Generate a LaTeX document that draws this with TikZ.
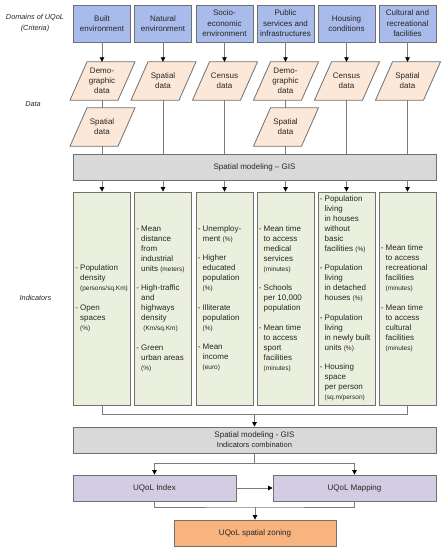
\documentclass[tikz,border=0pt]{standalone}
\usepackage{fontspec}
\setmainfont{Liberation Sans}
\usetikzlibrary{arrows.meta,calc}
\pgfdeclarelayer{bg}
\pgfsetlayers{bg,main}
\definecolor{cblue}{HTML}{A8BBEA}
\definecolor{cpeach}{HTML}{FCE8D8}
\definecolor{cgreen}{HTML}{EBF0DE}
\definecolor{cgray}{HTML}{D9D9D9}
\definecolor{clav}{HTML}{D4CCE3}
\definecolor{corange}{HTML}{F8B47E}
\definecolor{cborder}{HTML}{707070}
\definecolor{cline}{HTML}{7C7C7C}
\definecolor{ctext}{HTML}{262626}
\newcommand{\un}[1]{{\fontsize{6.5}{10}\selectfont #1}}
\newcommand{\ct}{\hphantom{- }}
\begin{document}
\begin{tikzpicture}[x=1pt,y=-1pt,
  every node/.style={text=ctext},
  box/.style={draw=cborder, line width=0.8pt, inner sep=0pt, align=center,
    font=\fontsize{8}{10.5}\selectfont},
  crit/.style={box, fill=cblue, minimum width=57pt, minimum height=37pt},
  para/.style={inner sep=0pt, minimum width=44pt, minimum height=38pt, align=center,
    font=\fontsize{8}{10}\selectfont},
  parashape/.style={draw=cborder, line width=0.8pt, fill=cpeach},
  ind/.style={box, fill=cgreen, minimum width=57pt, minimum height=213pt},
  itxt/.style={anchor=west, inner sep=0pt, align=left, font=\fontsize{8}{10}\selectfont},
  wide/.style={box, fill=cgray, minimum width=363pt, minimum height=26pt, font=\fontsize{8}{10}\selectfont},
  res/.style={box, fill=clav, minimum width=163pt, minimum height=26pt},
  zone/.style={box, fill=corange, minimum width=162pt, minimum height=26pt},
  lab/.style={align=center, inner sep=0pt, font=\itshape\fontsize{7.3}{10.3}\selectfont},
  conn/.style={draw=cline, line width=0.8pt},
  arr/.style={conn, -{Triangle[length=4.5pt,width=4.5pt,color=black]}}
]
\useasboundingbox (0,0) rectangle (446,550);

% left labels
\node[lab] (lcrit) at (35,23) {Domains of UQoL\\(Criteria)};
\node[lab] (ldata) at (33,104) {Data};
\node[lab] (lind) at (35.5,298) {Indicators};

% criteria
\node[crit] (k1) at (102,23.5) {Built\\environment};
\node[crit] (k2) at (163,23.5) {Natural\\environment};
\node[crit] (k3) at (224.5,23.5) {Socio-\\economic\\environment};
\node[crit] (k4) at (285.5,23.5) {Public\\services and\\infrastructures};
\node[crit] (k5) at (346.5,23.5) {Housing\\conditions};
\node[crit] (k6) at (407.5,23.5) {Cultural and\\recreational\\facilities};

% data
\node[para] (a1) at (102,81) {Demo-\\graphic\\data};
\node[para] (a2) at (163,81) {Spatial\\data};
\node[para] (a3) at (224.5,81) {Census\\data};
\node[para] (a4) at (285.5,81) {Demo-\\graphic\\data};
\node[para] (a5) at (346.5,81) {Census\\data};
\node[para] (a6) at (407.5,81) {Spatial\\data};
\node[para] (b1) at (102,127) {Spatial\\data};
\node[para] (b4) at (285.5,127) {Spatial\\data};
\begin{pgfonlayer}{bg}
\foreach \p in {a1,a2,a3,a4,a5,a6,b1,b4}{
  \draw[parashape] ($(\p.north)+(-15,0)$) -- ($(\p.north)+(33,0)$)
     -- ($(\p.south)+(16,0)$) -- ($(\p.south)+(-32,0)$) -- cycle;
}
\end{pgfonlayer}

% GIS 1
\node[wide] (g1) at (254.5,167) {Spatial modeling -- GIS};

% indicators
\foreach \k/\x in {1/102,2/163,3/224.5,4/285.5,5/346.5,6/407.5}{
  \node[ind] (i\k) at (\x,298.5) {};
}
\node[itxt] (t1) at ($(i1.west)+(2,0)$) {- Population\\\ct density\\\ct\un{(persons/sq.Km)}\\[9.5pt]- Open\\\ct spaces\\\ct\un{(\%)}};
\node[itxt] (t2) at ($(i2.west)+(2,0)$) {- Mean\\\ct distance\\\ct from\\\ct industrial\\\ct units \un{(meters)}\\[9.5pt]- High-traffic\\\ct and\\\ct highways\\\ct density\\\ct\ \un{(Km/sq.Km)}\\[9.5pt]- Green\\\ct urban areas\\\ct\un{(\%)}};
\node[itxt] (t3) at ($(i3.west)+(2,0)$) {- Unemploy-\\\ct ment \un{(\%)}\\[9.5pt]- Higher\\\ct educated\\\ct population\\\ct\un{(\%)}\\[9.5pt]- Illiterate\\\ct population\\\ct\un{(\%)}\\[9.5pt]- Mean\\\ct income\\\ct\un{(euro)}};
\node[itxt] (t4) at ($(i4.west)+(2,0)$) {- Mean time\\\ct to access\\\ct medical\\\ct services\\\ct\un{(minutes)}\\[9.5pt]- Schools\\\ct per 10,000\\\ct population\\[9.5pt]- Mean time\\\ct to access\\\ct sport\\\ct facilities\\\ct\un{(minutes)}};
\node[itxt] (t5) at ($(i5.west)+(2,0)$) {- Population\\\ct living\\\ct in houses\\\ct without\\\ct basic\\\ct facilities \un{(\%)}\\[9.5pt]- Population\\\ct living\\\ct in detached\\\ct houses \un{(\%)}\\[9.5pt]- Population\\\ct living\\\ct in newly built\\\ct units \un{(\%)}\\[9.5pt]- Housing\\\ct space\\\ct per person\\\ct\un{(sq.m/person)}};
\node[itxt] (t6) at ($(i6.west)+(2,0)$) {- Mean time\\\ct to access\\\ct recreational\\\ct facilities\\\ct\un{(minutes)}\\[9.5pt]- Mean time\\\ct to access\\\ct cultural\\\ct facilities\\\ct\un{(minutes)}};

% GIS 2
\node[wide] (g2) at (254.5,440) {Spatial modeling - GIS\\{\fontsize{7.5}{10}\selectfont Indicators combination}};

% results
\node[res] (idx) at (154.5,488) {UQoL Index};
\node[res] (map) at (354.5,488) {UQoL Mapping};
\node[zone] (zone) at (255,533) {UQoL spatial zoning};

% connectors
\foreach \k in {1,...,6}{
  \draw[arr] (k\k.south) -- (a\k.north);
  \draw[arr] (i\k.north |- g1.south) -- (i\k.north);
}
\draw[conn] (a1.south) -- (b1.north);
\draw[conn] (a4.south) -- (b4.north);
\foreach \p in {b1,a2,a3,b4,a5,a6}{
  \draw[conn] (\p.south) -- (\p.south |- g1.north);
}
\coordinate (brk) at (g2.north |- 0,414);
\draw[conn] (i1.south) -- (i1.south |- brk) -- (i6.south |- brk) -- (i6.south);
\draw[arr] (brk) -- (g2.north);
\coordinate (spl) at (g2.south |- 0,463);
\draw[conn] (g2.south) -- (spl);
\draw[arr] (spl) -| (idx.north);
\draw[arr] (spl) -| (map.north);
\draw[arr] (idx.east) -- (map.west);
\coordinate (jn) at (zone.north |- 0,507);
\draw[conn] (idx.south) |- (jn) -| (map.south);
\draw[arr] (jn) -- (zone.north);
\end{tikzpicture}
\end{document}
